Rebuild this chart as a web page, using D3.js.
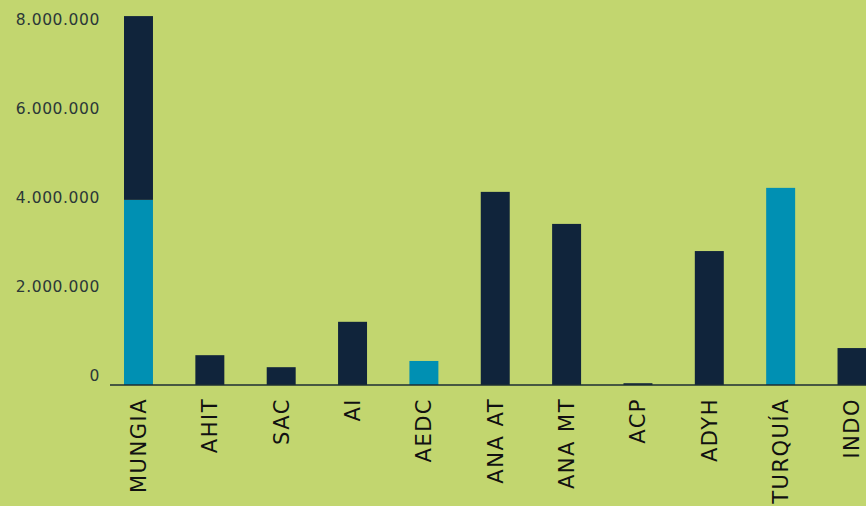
<!DOCTYPE html>
<html>
<head>
<meta charset="utf-8">
<script src="https://cdn.jsdelivr.net/npm/d3@7"></script>
<style>
  body { margin: 0; background: #c2d66f; }
  svg { display: block; }
</style>
</head>
<body>
<svg width="866" height="506"></svg>
<script>
const categories = ["MUNGIA", "AHIT", "SAC", "AI", "AEDC", "ANA AT", "ANA MT", "ACP", "ADYH", "TURQUÍA", "INDO"];
// lower (teal) and upper (navy) segments of each bar
const tealValues = [4160000, 0, 0, 0, 540000, 0, 0, 0, 0, 4430000, 0];
const navyValues = [4130000, 670000, 400000, 1420000, 0, 4340000, 3620000, 40000, 3010000, 0, 830000];
const yTicks = [0, 2000000, 4000000, 6000000, 8000000];

const svg = d3.select("svg");
const margin = { left: 110, bottom: 385, top: 29 };

const x = d3.scaleBand()
  .domain(categories)
  .range([102.6, 887.9])
  .paddingInner(0.594)
  .paddingOuter(0.3);

const y = d3.scaleLinear()
  .domain([0, 8000000])
  .range([margin.bottom, margin.top]);

const fmt = d => d3.format(",")(d).replace(/,/g, ".");

// y labels sit a little above their value
svg.append("g")
  .selectAll("text")
  .data(yTicks)
  .join("text")
  .attr("x", 100)
  .attr("y", d => y(d) - 9)
  .attr("dy", "0.35em")
  .attr("text-anchor", "end")
  .attr("fill", "#2b3838")
  .style("font-family", "DejaVu Sans")
  .style("font-size", "15.5px")
  .style("letter-spacing", "0.6px")
  .text(fmt);

const data = categories.map((c, i) => ({ c, teal: tealValues[i], navy: navyValues[i] }));

svg.append("g")
  .selectAll("rect")
  .data(data)
  .join("rect")
  .attr("x", d => x(d.c))
  .attr("width", x.bandwidth())
  .attr("y", d => y(d.teal))
  .attr("height", d => y(0) - y(d.teal))
  .attr("fill", "#0090b3");

svg.append("g")
  .selectAll("rect")
  .data(data)
  .join("rect")
  .attr("x", d => x(d.c))
  .attr("width", x.bandwidth())
  .attr("y", d => y(d.teal + d.navy))
  .attr("height", d => y(d.teal) - y(d.teal + d.navy))
  .attr("fill", "#10243b");

svg.append("line")
  .attr("x1", 110).attr("x2", 866)
  .attr("y1", y(0)).attr("y2", y(0))
  .attr("stroke", "#1d2e33")
  .attr("stroke-width", 1.5);

svg.append("g")
  .selectAll("text")
  .data(categories)
  .join("text")
  .attr("transform", d => `translate(${x(d) + x.bandwidth() / 2},398) rotate(-90)`)
  .attr("dy", "0.35em")
  .attr("text-anchor", "end")
  .attr("fill", "#111")
  .style("font-family", "DejaVu Sans")
  .style("font-size", "21px")
  .style("letter-spacing", "1.5px")
  .text(d => d);
</script>
</body>
</html>
